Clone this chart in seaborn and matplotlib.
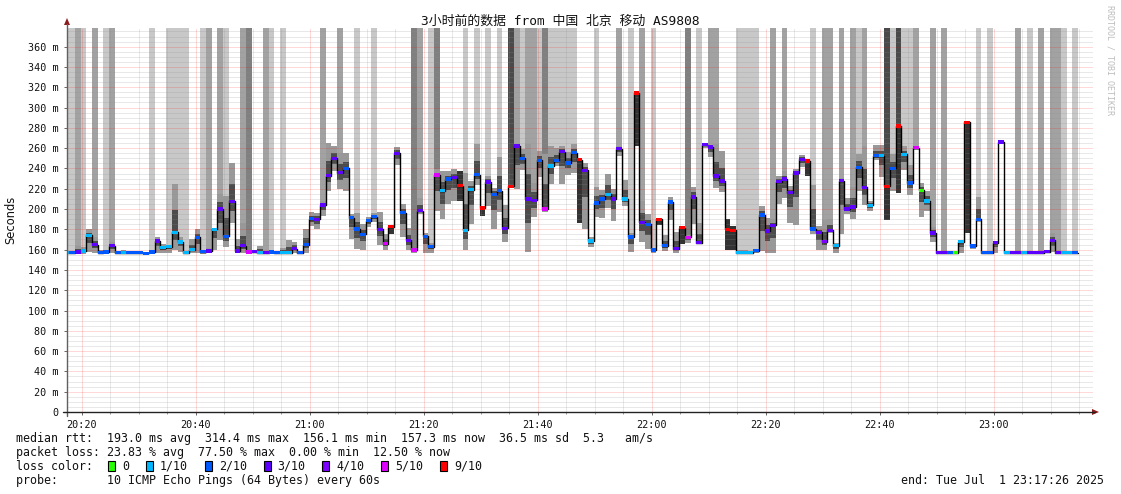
import numpy as np
import pandas as pd
import matplotlib
matplotlib.use("Agg")
import matplotlib.pyplot as plt
import seaborn as sns
from matplotlib.patches import Polygon, Rectangle
from matplotlib.lines import Line2D

# ---------------- data (one value per 60 s step) ----------------
median_ms = [157, 157, 157.5, 158.5, 174, 165, 157, 157.5, 164, 157,
             157, 157, 157, 157, 156.5, 157.5, 168.5, 162, 163, 177,
             167.5, 157, 160, 172, 158, 158.5, 180, 200, 173, 207.5,
             158.5, 164, 157.5, 158, 157, 157, 157.5, 157, 157, 157,
             161, 157, 165, 190.5, 190, 204, 233, 250, 236, 240,
             191.5, 180.5, 175, 188.5, 192.5, 180, 166, 182.5, 255, 196.5,
             169, 159.5, 198.5, 173, 163, 233.5, 218, 229.5, 231, 223,
             179, 219, 234, 201, 226.5, 214.5, 218, 181, 222.5, 262,
             250, 210, 208.5, 248, 200, 242.5, 248, 256.5, 245.5, 255.5,
             248.5, 238, 168.5, 206, 210, 214.5, 210, 259.5, 210, 172.5,
             314.5, 187, 185, 159.5, 190, 164, 207, 161, 181.5, 172,
             212, 167, 263.5, 261, 232.5, 227.5, 180, 179, 157, 157,
             157, 159, 194, 178.5, 184, 227, 229.5, 216, 235.5, 249,
             247.5, 180.5, 177, 168, 179, 164, 228, 200, 202, 241,
             221.5, 203.5, 252.5, 252.5, 222.5, 240, 282, 254, 225.5, 260.5,
             218.5, 208, 176.5, 157, 157, 157, 157, 168, 285.5, 163.5,
             190, 157, 157, 167, 266, 157, 157, 157, 157, 157,
             157, 157, 158, 169, 157, 157, 157, 157]

loss_bin = [1, 2, 3, 1, 1, 3, 2, 2, 3, 2,
            1, 2, 2, 2, 2, 2, 3, 1, 1, 1,
            1, 1, 1, 2, 2, 3, 1, 3, 2, 3,
            3, 3, 5, 3, 1, 3, 2, 2, 1, 1,
            3, 2, 2, 2, 3, 3, 3, 3, 3, 2,
            2, 2, 2, 2, 2, 3, 5, 9, 3, 2,
            3, 5, 3, 2, 2, 5, 1, 2, 3, 9,
            1, 1, 2, 9, 3, 2, 2, 3, 9, 3,
            2, 3, 3, 2, 5, 1, 2, 3, 2, 2,
            9, 3, 1, 2, 2, 1, 3, 3, 1, 2,
            9, 3, 2, 2, 9, 2, 2, 3, 9, 5,
            3, 3, 3, 3, 3, 3, 9, 9, 1, 1,
            1, 2, 2, 3, 3, 3, 3, 3, 3, 3,
            9, 2, 3, 4, 3, 1, 3, 3, 3, 2,
            3, 1, 2, 1, 9, 2, 9, 1, 2, 5,
            0, 1, 3, 3, 3, 2, 0, 1, 9, 2,
            2, 2, 2, 3, 3, 1, 3, 3, 1, 3,
            3, 3, 3, 3, 3, 1, 1, 2]

smoke_lo = [156, 156, 156, 156, 158, 157, 156, 156, 157, 156,
            156, 156, 156, 156, 156, 156, 157, 157, 157, 160,
            158, 156, 157, 157, 156, 157, 160, 169, 163, 186,
            157, 157, 156, 157, 156, 156, 156, 156, 156, 156,
            157, 156, 157, 183, 180, 193, 218, 237, 220, 218,
            170, 161, 160, 182, 187, 165, 160, 175, 243, 172,
            160, 157, 195, 157, 157, 198, 190, 205, 208, 208,
            160, 185, 224, 193, 203, 180, 197, 168, 222, 220,
            238, 158, 192, 232, 197, 225, 242, 225, 234, 236,
            186, 180, 163, 192, 191, 201, 188, 252, 203, 158,
            262, 168, 161, 157, 184, 159, 189, 157, 166, 167,
            185, 166, 260, 251, 221, 217, 160, 160, 156, 156,
            156, 157, 159, 157, 157, 205, 211, 186, 184, 241,
            233, 175, 160, 160, 176, 157, 175, 195, 190, 218,
            204, 198, 248, 232, 189, 218, 216, 238, 214, 258,
            192, 198, 168, 156, 156, 156, 156, 157, 176, 161,
            187, 156, 156, 157, 265, 156, 156, 156, 156, 156,
            156, 156, 157, 158, 156, 156, 156, 156]

smoke_hi = [159, 159, 164, 163, 180, 172, 160, 159, 168, 158,
            160, 158, 158, 158, 158, 159, 172, 166, 165, 225,
            172, 159, 170, 180, 160, 162, 181, 215, 213, 245,
            170, 186, 160, 159, 164, 158, 158, 158, 162, 169,
            168, 158, 180, 197, 196, 208, 265, 262, 255, 255,
            195, 196, 185, 192, 196, 197, 175, 184, 261, 205,
            181, 162, 211, 176, 167, 239, 237, 237, 239, 237,
            236, 228, 264, 201, 233, 221, 251, 204, 223, 262,
            259, 264, 226, 257, 254, 262, 260, 262, 256, 264,
            249, 245, 172, 222, 219, 235, 220, 262, 229, 176,
            315, 208, 195, 161, 190, 174, 212, 177, 182, 174,
            222, 186, 264, 261, 264, 257, 190, 183, 160, 160,
            158, 160, 203, 191, 190, 233, 237, 223, 239, 253,
            248, 224, 183, 189, 190, 167, 231, 211, 222, 254,
            262, 208, 263, 263, 223, 254, 282, 262, 243, 262,
            226, 218, 182, 158, 158, 158, 158, 168, 286, 164,
            212, 158, 158, 168, 267, 158, 158, 158, 158, 158,
            158, 158, 160, 176, 158, 158, 158, 159]

# tall smoke column reaching the top: 0 none, 1 light, 2 mid, 3 dark, 4 darkest
column = [1, 1, 2, 1, 0, 2, 0, 1, 2, 0,
          0, 0, 0, 0, 0, 1, 0, 0, 1, 1,
          1, 1, 0, 0, 1, 2, 0, 2, 1, 0,
          0, 2, 3, 0, 0, 2, 1, 0, 1, 0,
          0, 0, 0, 0, 0, 2, 0, 0, 2, 0,
          0, 1, 0, 0, 1, 0, 0, 0, 0, 0,
          0, 3, 2, 0, 1, 3, 0, 0, 0, 0,
          1, 0, 1, 0, 1, 0, 1, 0, 4, 2,
          1, 2, 2, 1, 3, 1, 1, 1, 1, 1,
          0, 0, 0, 1, 0, 0, 0, 2, 0, 1,
          0, 2, 0, 1, 0, 0, 0, 0, 0, 3,
          0, 1, 0, 2, 2, 0, 0, 0, 1, 1,
          1, 1, 0, 0, 2, 0, 2, 0, 0, 0,
          0, 1, 0, 2, 2, 0, 2, 0, 2, 1,
          2, 0, 0, 0, 4, 1, 4, 1, 1, 2,
          0, 0, 2, 0, 2, 0, 0, 0, 0, 0,
          1, 0, 1, 0, 0, 0, 0, 2, 0, 1,
          0, 2, 0, 2, 2, 1, 0, 1]

y_ticks = list(range(0, 361, 20))
y_tick_labels = ["0"] + [f"{v} m" for v in range(20, 361, 20)]
x_tick_labels = ["20:20", "20:40", "21:00", "21:20", "21:40",
                 "22:00", "22:20", "22:40", "23:00"]

loss_labels = ["0", "1/10", "2/10", "3/10", "4/10", "5/10", "9/10"]
loss_values = [0, 1, 2, 3, 4, 5, 9]
loss_colors = ["#26ff00", "#00b8ff", "#0059ff", "#5e00ff", "#7e00ff", "#dd00ff", "#ff0000"]

title = "3小时前的数据 from 中国 北京 移动 AS9808"
line_rtt = "median rtt:  193.0 ms avg  314.4 ms max  156.1 ms min  157.3 ms now  36.5 ms sd  5.3   am/s"
line_loss = "packet loss: 23.83 % avg  77.50 % max  0.00 % min  12.50 % now"
line_probe = "probe:       10 ICMP Echo Pings (64 Bytes) every 60s"
line_end = "end: Tue Jul  1 23:17:26 2025"

# ---------------- layout ----------------
W, H = 1121, 494
X0, X1, YB, YT = 67, 1093, 412, 28
YMAX = 378.4
START_MIN = 20 * 60 + 17 + 26 / 60.0   # 20:17:26
SPAN = 180.0

sns.set_style("white")
plt.rcParams['font.family'] = ['DejaVu Sans Mono', 'Noto Sans CJK SC']

fig = plt.figure(figsize=(W / 100, H / 100), dpi=100)
fig.patch.set_facecolor("white")
ax = fig.add_axes([X0 / W, (H - YB) / H, (X1 - X0) / W, (YB - YT) / H])
ax.set_xlim(0, SPAN)
ax.set_ylim(0, YMAX)
for s in ax.spines.values():
    s.set_visible(False)

df = pd.DataFrame({"median": median_ms, "loss": loss_bin, "lo": smoke_lo,
                   "hi": smoke_hi, "col": column})
n = len(df)
df["left"] = np.arange(n) - 0.6

# tall columns
col_colors = {1: "#c8c8c8", 2: "#a2a2a2", 3: "#808080", 4: "#4a4a4a"}
for code, c in col_colors.items():
    d = df[df.col == code]
    ax.bar(d.left, YMAX + 5 - d.lo, bottom=d.lo, width=1, align="edge",
           color=c, linewidth=0, antialiased=False, zorder=1)

# smoke
normal = df[df.loss < 9]
heavy = df[df.loss >= 9]
ax.bar(normal.left, normal.hi - normal.lo, bottom=normal.lo, width=1, align="edge",
       color="#999999", linewidth=0, antialiased=False, zorder=2)
in_lo = normal["median"] - 0.45 * (normal["median"] - normal.lo)
in_hi = normal["median"] + 0.45 * (normal.hi - normal["median"])
ax.bar(normal.left, in_hi - in_lo, bottom=in_lo, width=1, align="edge",
       color="#4c4c4c", linewidth=0, antialiased=False, zorder=2.5)
ax.bar(heavy.left, heavy.hi - heavy.lo, bottom=heavy.lo, width=1, align="edge",
       color="#333333", linewidth=0, antialiased=False, zorder=2.5)

# grid (semi-transparent, drawn over the smoke, as rrdtool does)
dash = (0, (1, 1))
for v in range(5, 380, 5):
    if v % 20 == 0:
        ax.axhline(v, color="#ff0000", alpha=0.3, lw=0.72, ls=dash, zorder=3)
    else:
        ax.axhline(v, color="#909090", alpha=0.4, lw=0.72, ls=dash, zorder=3)
first5 = (5 - (START_MIN % 5)) % 5
minor_x = np.arange(first5, SPAN, 5)
major_x = []
for t in minor_x:
    clock = START_MIN + t
    if abs((clock % 20)) < 1e-6 or abs((clock % 20) - 20) < 1e-6:
        ax.axvline(t, color="#ff0000", alpha=0.3, lw=0.72, ls=dash, zorder=3)
        major_x.append(t)
    else:
        ax.axvline(t, color="#909090", alpha=0.4, lw=0.72, ls=dash, zorder=3)

# median line (steps) and loss colored markers
xs = np.append(df.left.values, df.left.values[-1] + 1)
ys = np.append(df["median"].values, df["median"].values[-1])
sns.lineplot(x=xs, y=ys, ax=ax, color="black", lw=1.0, drawstyle="steps-post",
             estimator=None, sort=False, zorder=4, legend=False)
cmap = dict(zip(loss_values, loss_colors))
ax.bar(df.left, 3.3, bottom=df["median"] - 1.65, width=1, align="edge",
       color=[cmap[v] for v in df.loss], linewidth=0, antialiased=False, zorder=5)

# ticks
ax.set_yticks(y_ticks)
ax.set_yticklabels(y_tick_labels, fontsize=7.3, family="DejaVu Sans Mono")
ax.set_xticks(major_x)
ax.set_xticklabels(x_tick_labels, fontsize=7.3, family="DejaVu Sans Mono")
ax.set_xticks(minor_x, minor=True)
ax.tick_params(axis="y", which="major", length=2.5, width=0.7, color="#666666", pad=3.5,
               left=True, labelcolor="#111111")
ax.tick_params(axis="x", which="major", length=2.5, width=0.7, color="#666666", pad=3.0,
               bottom=True, labelcolor="#111111")
ax.tick_params(axis="x", which="minor", length=1.5, width=0.7, color="#999999", bottom=True)
ax.set_xlabel("")
ax.set_ylabel("")


def fx(x):
    return x / W


def fy(y):
    return 1 - y / H


# axis lines and arrows
fig.add_artist(Line2D([fx(X0), fx(X0)], [fy(YB + 4), fy(24)], color="#606060", lw=1.0))
fig.add_artist(Line2D([fx(X0 - 4), fx(1095)], [fy(YB), fy(YB)], color="#222222", lw=1.0))
fig.add_artist(Polygon([(fx(X0), fy(18)), (fx(X0 - 3), fy(25)), (fx(X0 + 3), fy(25))],
                       closed=True, color="#8b1c1c", lw=0))
fig.add_artist(Polygon([(fx(1099), fy(YB)), (fx(1092), fy(YB - 3)), (fx(1092), fy(YB + 3))],
                       closed=True, color="#8b1c1c", lw=0))

# texts
fig.text(fx(560), fy(21), title, ha="center", va="center", fontsize=9.3,
         family=["DejaVu Sans Mono", "Noto Sans CJK SC"], color="#111111")
fig.text(fx(11), fy(220), "Seconds", rotation=90, ha="center", va="center",
         fontsize=8.3, family="DejaVu Sans", color="#111111")
fig.text(fx(1110), fy(5), "RRDTOOL / TOBI OETIKER", rotation=270, ha="center", va="top",
         fontsize=6.0, family="DejaVu Sans Mono", color="#bdbdbd")

LX = 16
lg = dict(ha="left", va="center", fontsize=8.4, family="DejaVu Sans Mono", color="#111111")
fig.text(fx(LX), fy(438), line_rtt, **lg)
fig.text(fx(LX), fy(452), line_loss, **lg)
fig.text(fx(LX), fy(466), "loss color:", **lg)
fig.text(fx(LX), fy(480), line_probe, **lg)
fig.text(fx(1104), fy(480), line_end, ha="right", va="center", fontsize=8.4,
         family="DejaVu Sans Mono", color="#111111")

cw = 6.96
bx = 108
for lab, c in zip(loss_labels, loss_colors):
    fig.add_artist(Rectangle((fx(bx), fy(471)), 7 / W, 10 / H, facecolor=c,
                             edgecolor="black", lw=0.8))
    fig.text(fx(bx + 14), fy(466), lab, **lg)
    bx = bx + 14 + len(lab) * cw + 17

fig.savefig("out.png", dpi=100, facecolor="white")
